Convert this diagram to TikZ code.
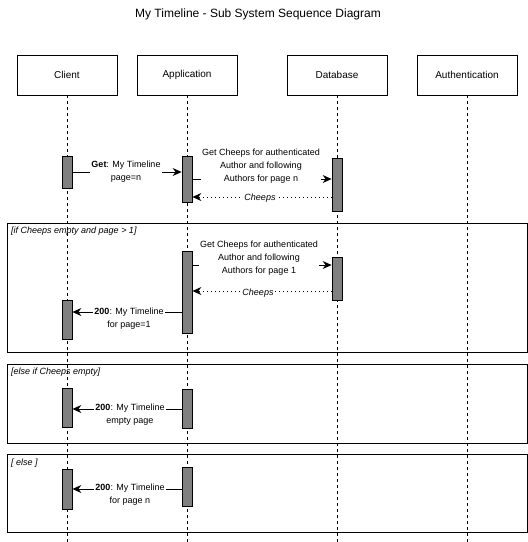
\documentclass[tikz,border=0pt]{standalone}
\usepackage{fontspec}
\setmainfont{Liberation Sans}
\usetikzlibrary{arrows.meta}
\newcommand{\MsgTip}{Stealth[length=9,width=8,inset=3]}
\tikzset{head/.style={draw,line width=.8pt,minimum width=100,minimum height=40,inner sep=0pt,font=\fontsize{10}{12}\selectfont}}
\tikzset{life/.style={dash pattern=on 3pt off 3pt,line width=.8pt}}
\tikzset{act/.style={draw,fill=black!50,line width=.8pt,minimum width=10,inner sep=0pt}}
\tikzset{msg/.style={-{\MsgTip},line width=.8pt},ret/.style={-{\MsgTip},line width=.8pt,dash pattern=on 1pt off 3pt}}
\tikzset{lbl/.style={fill=white,inner sep=1pt,align=center,font=\fontsize{9}{13}\selectfont}}
\tikzset{frag/.style={draw,line width=.8pt},guard/.style={anchor=west,inner sep=0pt,font=\fontsize{9}{11}\selectfont\itshape}}

\begin{document}
\begin{tikzpicture}[x=1pt,y=-1pt]
\useasboundingbox(0,0)rectangle(528,542);
\node(title)[font=\fontsize{12}{14}\selectfont]at(258,14){My Timeline - Sub System Sequence Diagram};
% participants and lifelines
\node(cl)[head]at(67,75){Client};\node(ap)[head]at(187,75){Application};
\node(db)[head]at(337,75){Database};\node(au)[head]at(467,75){Authentication};
\foreach \p in {cl,ap,db,au}{\draw[life](\p.south)--(\p|-0,542);}
% combined fragments
\draw[frag](7,223)rectangle(527,352);\node(g1)[guard]at(11,231){[if Cheeps empty and page > 1]};
\draw[frag](7,364)rectangle(527,443);\node(g2)[guard]at(11,372){[else if Cheeps empty]};
\draw[frag](7,454)rectangle(527,532);\node(g3)[guard]at(11,463){[ else ]};
% activations
\node(ca1)[act,minimum height=32]at(67,172){};\node(aa1)[act,minimum height=46]at(187,179){};\node(da1)[act,minimum height=53]at(337,184.5){};
\node(aa2)[act,minimum height=82]at(187,292){};\node(da2)[act,minimum height=43]at(337,278.5){};\node(ca2)[act,minimum height=39]at(67,319.5){};
\node(ca3)[act,minimum height=39]at(67,407.5){};\node(aa3)[act,minimum height=39]at(187,408.5){};
\node(ca4)[act,minimum height=40]at(67,489){};\node(aa4)[act,minimum height=39]at(187,486.5){};
% messages
\draw[msg](ca1.east|-0,172)--(aa1.west|-0,172);\node(m1)[lbl]at(126,171.5){\textbf{Get}: My Timeline\\page=n};
\draw[msg](aa1.east|-0,179)--(da1.west|-0,179);\node(m2)[lbl]at(261,166.5){Get Cheeps for authenticated\\Author and following\\Authors for page n};
\draw[ret](da1.west|-0,197)--(aa1.east|-0,197);\node(m3)[lbl,font=\fontsize{9}{11}\selectfont\itshape]at(260,198){Cheeps};
\draw[msg](aa2.east|-0,265)--(da2.west|-0,265);\node(m4)[lbl]at(259,258.5){Get Cheeps for authenticated\\Author and following\\Authors for page 1};
\draw[ret](da2.west|-0,291)--(aa2.east|-0,291);\node(m5)[lbl,font=\fontsize{9}{11}\selectfont\itshape]at(258,293){Cheeps};
\draw[msg](aa2.west|-0,312)--(ca2.east|-0,312);\node(m6)[lbl]at(129,318.5){\textbf{200}: My Timeline\\for page=1};
\draw[msg](aa3.west|-0,409)--(ca3.east|-0,409);\node(m7)[lbl]at(130,415){\textbf{200}: My Timeline\\empty page};
\draw[msg](aa4.west|-0,489)--(ca4.east|-0,489);\node(m8)[lbl]at(130,495){\textbf{200}: My Timeline\\for page n};
\end{tikzpicture}
\end{document}
